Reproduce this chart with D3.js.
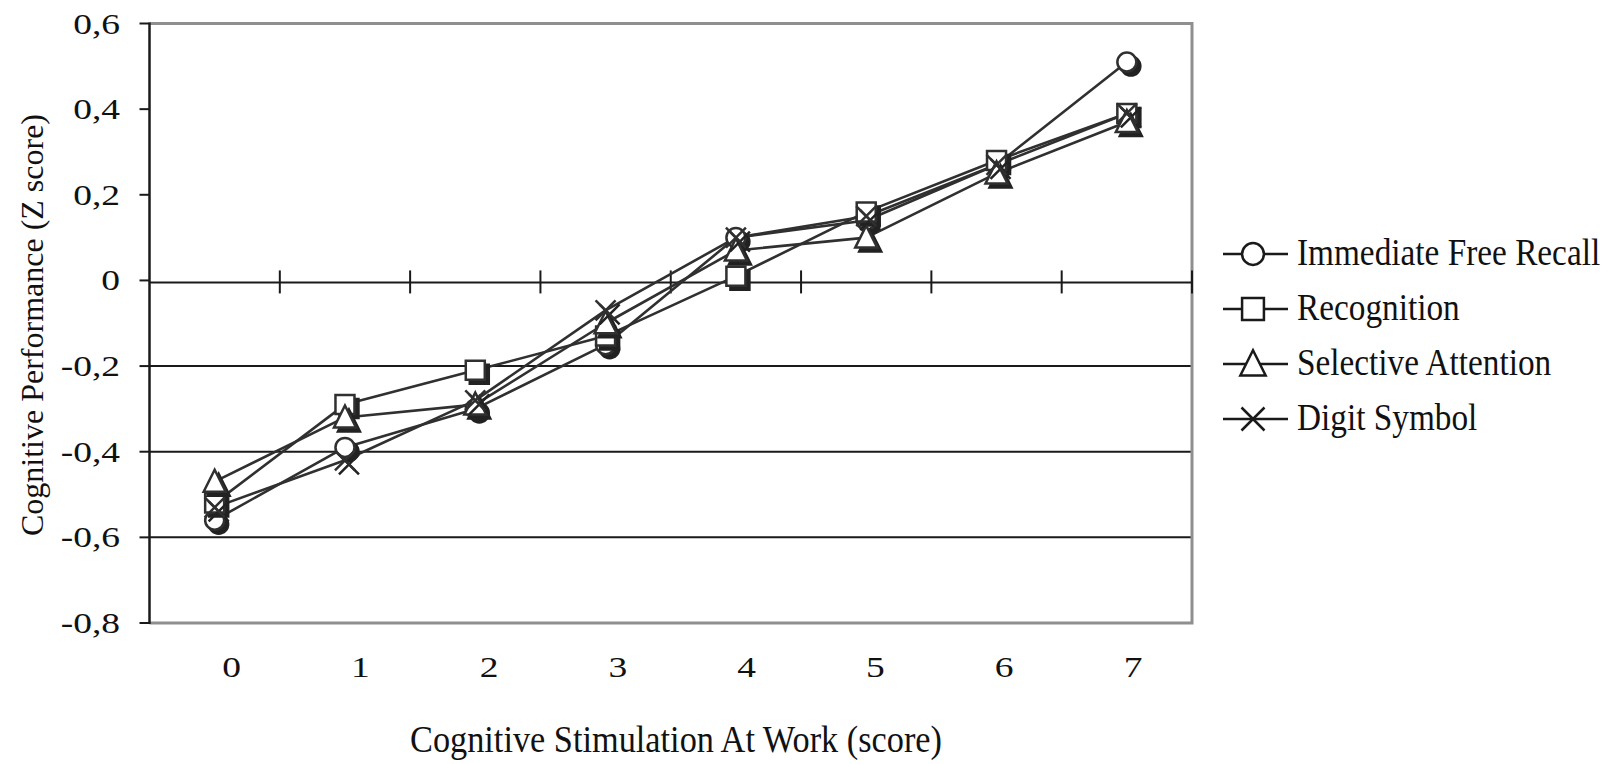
<!DOCTYPE html>
<html>
<head>
<meta charset="utf-8">
<script src="https://cdn.jsdelivr.net/npm/d3@7"></script>
<style>
  html, body { margin: 0; padding: 0; background: #fff; }
  svg { display: block; }
  text { font-family: "Liberation Serif", "Times New Roman", serif; fill: #111; }
</style>
</head>
<body>
<svg id="chart" width="1617" height="764"></svg>
<script>
// Cognitive performance (Z score) by cognitive stimulation at work (score)
const categories = ["0", "1", "2", "3", "4", "5", "6", "7"];
const seriesNames = ["Immediate Free Recall", "Recognition", "Selective Attention", "Digit Symbol"];
const immediateFreeRecall = [-0.56, -0.39, -0.30, -0.15, 0.10, 0.14, 0.27, 0.51];
const recognition         = [-0.52, -0.29, -0.21, -0.13, 0.01, 0.16, 0.28, 0.39];
const selectiveAttention  = [-0.47, -0.32, -0.29, -0.10, 0.07, 0.10, 0.25, 0.37];
const digitSymbol         = [-0.53, -0.42, -0.28, -0.07, 0.10, 0.15, 0.27, 0.39];
const yTickValues = [0.6, 0.4, 0.2, 0, -0.2, -0.4, -0.6, -0.8];
const gridValues = [-0.2, -0.4, -0.6];
const xTitle = "Cognitive Stimulation At Work (score)";
const yTitle = "Cognitive Performance (Z score)";

const seriesValues = [immediateFreeRecall, recognition, selectiveAttention, digitSymbol];
const markerKinds = ["circle", "square", "triangle", "cross"];

const svg = d3.select("#chart");
svg.append("rect").attr("width", 1617).attr("height", 764).attr("fill", "#fff");

const plot = { left: 149.5, right: 1192, top: 23.5, bottom: 623 };

const x = d3.scaleBand().domain(categories).range([plot.left, plot.right]).padding(0);
const cx = c => x(c) + x.bandwidth() / 2;
const xLabel = d3.scalePoint().domain(categories).range([plot.left + 82, plot.right - 59]);
const y = d3.scaleLinear().domain([-0.8, 0.6]).range([plot.bottom, plot.top]);

const locale = d3.formatLocale({ decimal: ",", thousands: ".", grouping: [3], currency: ["", ""], minus: "-" });
const fmt = locale.format(".1~f");

const ink = "#1a1a1a";
const lineInk = "#303030";

// horizontal gridlines below zero
svg.append("g").selectAll("line").data(gridValues).join("line")
  .attr("x1", plot.left).attr("x2", plot.right)
  .attr("y1", d => y(d)).attr("y2", d => y(d))
  .attr("stroke", ink).attr("stroke-width", 2);

// plot frame: grey top/right/bottom
svg.append("path")
  .attr("d", `M${plot.left},${plot.top}H${plot.right}V${plot.bottom}H${plot.left}`)
  .attr("fill", "none").attr("stroke", "#8f8f8f").attr("stroke-width", 3);

// value axis on the left with outside ticks
svg.append("line")
  .attr("x1", plot.left).attr("x2", plot.left)
  .attr("y1", plot.top - 1).attr("y2", plot.bottom + 1)
  .attr("stroke", ink).attr("stroke-width", 2.5);
svg.append("g").selectAll("line").data(yTickValues).join("line")
  .attr("x1", plot.left - 10).attr("x2", plot.left)
  .attr("y1", d => y(d)).attr("y2", d => y(d))
  .attr("stroke", ink).attr("stroke-width", 2);

// category axis crossing at zero, with ticks between categories
const y0 = y(0) + 2;
svg.append("line")
  .attr("x1", plot.left).attr("x2", plot.right)
  .attr("y1", y0).attr("y2", y0)
  .attr("stroke", ink).attr("stroke-width", 2);
svg.append("g").selectAll("line").data(categories).join("line")
  .attr("x1", d => x(d) + x.bandwidth()).attr("x2", d => x(d) + x.bandwidth())
  .attr("y1", y0 - 12).attr("y2", y0 + 11)
  .attr("stroke", ink).attr("stroke-width", 2);

// marker shapes
function markerPath(kind, s) {
  if (kind === "circle") {
    const r = 9.5 * s;
    return `M${-r},0A${r},${r} 0 1,0 ${r},0A${r},${r} 0 1,0 ${-r},0Z`;
  }
  if (kind === "square") {
    const h = 9.5 * s;
    return `M${-h},${-h}H${h}V${h}H${-h}Z`;
  }
  if (kind === "triangle") {
    return `M0,${-12 * s}L${11 * s},${10 * s}L${-11 * s},${10 * s}Z`;
  }
  const h = 10 * s;
  return `M${-h},${-h}L${h},${h}M${-h},${h}L${h},${-h}`;
}

// series lines
const line = d3.line().x((d, i) => cx(categories[i])).y(d => y(d));
svg.append("g").selectAll("path").data(seriesValues).join("path")
  .attr("d", d => line(d))
  .attr("fill", "none").attr("stroke", lineInk).attr("stroke-width", 2.6)
  .attr("stroke-linejoin", "round");

// markers with drop shadows
seriesValues.forEach((vals, si) => {
  const kind = markerKinds[si];
  const g = svg.append("g");
  const pts = vals.map((v, i) => ({ c: categories[i], v }));
  const isCross = kind === "cross";
  g.selectAll("path.shadow").data(pts).join("path").attr("class", "shadow")
    .attr("transform", d => `translate(${cx(d.c) + 4},${y(d.v) + 4})`)
    .attr("d", markerPath(kind, 1))
    .attr("fill", isCross ? "none" : "#222")
    .attr("stroke", "#222").attr("stroke-width", 2.5);
  g.selectAll("path.mark").data(pts).join("path").attr("class", "mark")
    .attr("transform", d => `translate(${cx(d.c)},${y(d.v)})`)
    .attr("d", markerPath(kind, 1))
    .attr("fill", isCross ? "none" : "#fff")
    .attr("stroke", lineInk).attr("stroke-width", 2.5);
});

// value tick labels
svg.append("g").selectAll("text").data(yTickValues).join("text")
  .attr("transform", d => `translate(120,${y(d) + 10}) scale(1.25,1)`)
  .attr("text-anchor", "end")
  .style("font-size", "30px")
  .text(d => fmt(d));

// category tick labels
svg.append("g").selectAll("text").data(categories).join("text")
  .attr("transform", d => `translate(${xLabel(d)},677) scale(1.25,1)`)
  .attr("text-anchor", "middle")
  .style("font-size", "30px")
  .text(d => d);

// axis titles
svg.append("text")
  .attr("x", 676).attr("y", 752)
  .attr("text-anchor", "middle")
  .attr("textLength", 532).attr("lengthAdjust", "spacingAndGlyphs")
  .style("font-size", "38px")
  .text(xTitle);

svg.append("text")
  .attr("transform", "translate(43,325) rotate(-90)")
  .attr("text-anchor", "middle")
  .style("font-size", "32px")
  .text(yTitle);

// legend
const legend = svg.append("g");
seriesNames.forEach((name, i) => {
  const ly = 254 + 55 * i;
  const row = legend.append("g");
  row.append("line")
    .attr("x1", 1223).attr("x2", 1288).attr("y1", ly).attr("y2", ly)
    .attr("stroke", ink).attr("stroke-width", 2.5);
  row.append("path")
    .attr("transform", `translate(1253,${ly})`)
    .attr("d", markerPath(markerKinds[i], 1.15))
    .attr("fill", markerKinds[i] === "cross" ? "none" : "#fff")
    .attr("stroke", ink).attr("stroke-width", 2.5);
  row.append("text")
    .attr("transform", `translate(1297,${ly + 11}) scale(0.9,1)`)
    .style("font-size", "37px")
    .text(name);
});
</script>
</body>
</html>
